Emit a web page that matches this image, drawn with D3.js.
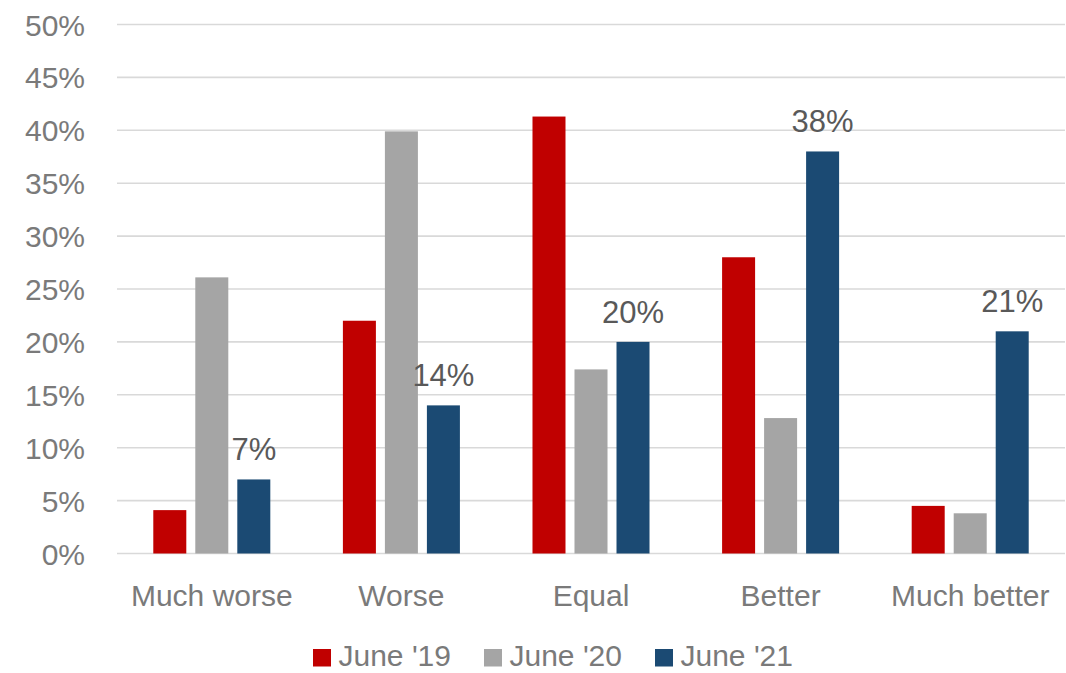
<!DOCTYPE html>
<html>
<head>
<meta charset="utf-8">
<script src="https://cdn.jsdelivr.net/npm/d3@7"></script>
<style>
  html, body { margin: 0; padding: 0; background: #ffffff; }
  svg { display: block; font-family: "Liberation Sans", Arial, sans-serif; }
</style>
</head>
<body>
<svg id="chart" width="1066" height="673"></svg>
<script>
// Survey answers by category, one array per survey wave (percent)
const categories = ["Much worse", "Worse", "Equal", "Better", "Much better"];
const seriesNames = ["June '19", "June '20", "June '21"];
const june19 = [4.1, 22, 41.3, 28, 4.5];
const june20 = [26.1, 39.9, 17.4, 12.8, 3.8];
const june21 = [7, 14, 20, 38, 21];
const yTicks = [0, 5, 10, 15, 20, 25, 30, 35, 40, 45, 50];
const colors = ["#c00000", "#a5a5a5", "#1b4a73"];
const labelledSeries = 2; // only the latest wave carries value labels

const seriesValues = [june19, june20, june21];

const svg = d3.select("#chart");
const plot = { left: 117, right: 1065, top: 24.5, bottom: 553.5 };

const x = d3.scaleBand()
  .domain(categories)
  .range([plot.left, plot.right])
  .paddingInner(0)
  .paddingOuter(0);

const xInner = d3.scaleBand()
  .domain(seriesNames)
  .range([0, x.bandwidth()])
  .paddingInner(9 / 42)
  .paddingOuter(0.864);

const y = d3.scaleLinear()
  .domain([0, 50])
  .range([plot.bottom, plot.top]);

// Horizontal gridlines
svg.append("g")
  .selectAll("line")
  .data(yTicks)
  .join("line")
  .attr("x1", plot.left)
  .attr("x2", plot.right)
  .attr("y1", d => y(d))
  .attr("y2", d => y(d))
  .attr("stroke", "#d9d9d9")
  .attr("stroke-width", 1.6);

// Y axis labels
const yAxis = d3.axisLeft(y)
  .tickValues(yTicks)
  .tickFormat(d => d + "%")
  .tickSize(0)
  .tickPadding(0);

const yg = svg.append("g")
  .attr("transform", "translate(85,0)")
  .call(yAxis);
yg.select(".domain").remove();
yg.selectAll("text")
  .attr("font-size", 30)
  .attr("font-family", "'Liberation Sans', Arial, sans-serif")
  .attr("fill", "#7a7a7a")
  .attr("dy", "0.35em");

// Bars
const groups = svg.append("g")
  .selectAll("g")
  .data(categories)
  .join("g")
  .attr("transform", d => `translate(${x(d)},0)`);

groups.selectAll("rect")
  .data((cat, ci) => seriesNames.map((s, si) => ({ s, si, v: seriesValues[si][ci] })))
  .join("rect")
  .attr("x", d => xInner(d.s))
  .attr("width", xInner.bandwidth())
  .attr("y", d => y(d.v))
  .attr("height", d => y(0) - y(d.v))
  .attr("fill", d => colors[d.si]);

// Value labels above the June '21 bars
groups.selectAll("text.value")
  .data((cat, ci) => [{ s: seriesNames[labelledSeries], v: seriesValues[labelledSeries][ci] }])
  .join("text")
  .attr("class", "value")
  .attr("x", d => xInner(d.s) + xInner.bandwidth() / 2)
  .attr("y", d => y(d.v) - 19)
  .attr("text-anchor", "middle")
  .attr("font-size", 31)
  .attr("fill", "#595959")
  .text(d => d.v + "%");

// Category axis labels
const xAxis = d3.axisBottom(x).tickSize(0).tickPadding(0);
const xg = svg.append("g")
  .attr("transform", `translate(0,${plot.bottom})`)
  .call(xAxis);
xg.select(".domain").remove();
xg.selectAll("text")
  .attr("font-size", 30)
  .attr("font-family", "'Liberation Sans', Arial, sans-serif")
  .attr("fill", "#7a7a7a")
  .attr("dy", 0)
  .attr("y", 52);

// Legend
const legend = svg.append("g").attr("transform", "translate(313,0)");
let lx = 0;
seriesNames.forEach((name, i) => {
  const item = legend.append("g").attr("transform", `translate(${lx},0)`);
  item.append("rect")
    .attr("x", 0)
    .attr("y", 649)
    .attr("width", 18)
    .attr("height", 17.5)
    .attr("fill", colors[i]);
  const t = item.append("text")
    .attr("x", 25.5)
    .attr("y", 666)
    .attr("font-size", 30)
    .attr("fill", "#7a7a7a")
    .text(name);
  lx += 25.5 + t.node().getComputedTextLength() + 33;
});
</script>
</body>
</html>
